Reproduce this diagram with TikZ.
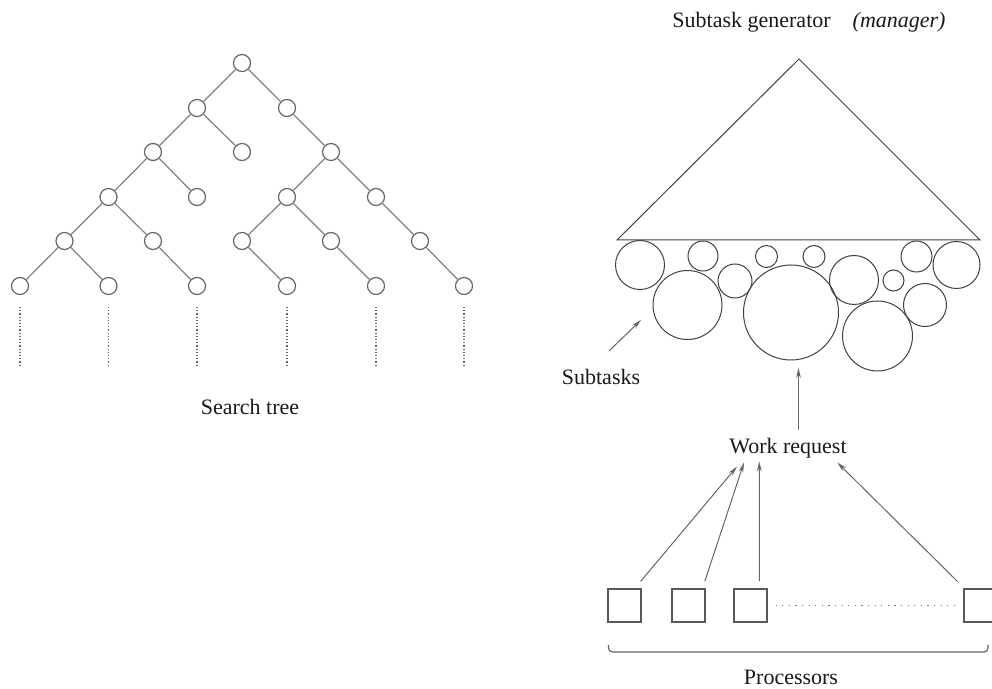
\documentclass[tikz,border=0pt]{standalone}
\usepackage{fontspec}
\setmainfont{Liberation Serif}
\usepackage{tikz}
\usetikzlibrary{arrows.meta}

\begin{document}
\begin{tikzpicture}[
    x=0.5pt, y=-0.5pt,
    font=\fontsize{11}{13}\selectfont,
    tnode/.style = {
        circle, draw=black!60, line width=0.6pt, minimum size=8.5pt, inner sep=0pt
    },
    tedge/.style = {
        draw=black!50, line width=0.6pt
    },
    proc/.style = {
        rectangle, draw=black!65, line width=0.6pt, minimum size=16.5pt, inner sep=0pt
    },
    arrow/.style = {
        -{Stealth[length=5pt, width=2.4pt]}, line width=0.5pt, color=black!60
    },
    label/.style = {
        inner sep=0pt, text=black!90
    }
]
\useasboundingbox (0,0) rectangle (992,689);

% Search tree ── nodes, row by row
\node[tnode] (t0)  at (242,63)   {};
\node[tnode] (t1a) at (197,108)  {};
\node[tnode] (t1b) at (287,108)  {};
\node[tnode] (t2a) at (153,152)  {};
\node[tnode] (t2b) at (242,152)  {};
\node[tnode] (t2c) at (331,152)  {};
\node[tnode] (t3a) at (108.5,197) {};
\node[tnode] (t3b) at (197,197)  {};
\node[tnode] (t3c) at (287,197)  {};
\node[tnode] (t3d) at (376,197)  {};
\node[tnode] (t4a) at (64.5,241) {};
\node[tnode] (t4b) at (153,241)  {};
\node[tnode] (t4c) at (242,241)  {};
\node[tnode] (t4d) at (331,241)  {};
\node[tnode] (t4e) at (420,241)  {};
\node[tnode] (t5a) at (20,286)   {};
\node[tnode] (t5b) at (108.5,286) {};
\node[tnode] (t5c) at (197,286)  {};
\node[tnode] (t5d) at (287,286)  {};
\node[tnode] (t5e) at (376,286)  {};
\node[tnode] (t5f) at (464,286)  {};

% Search tree ── edges
\path[tedge] (t0) -- (t1a)  (t0) -- (t1b)
             (t1a) -- (t2a) (t1a) -- (t2b)  (t1b) -- (t2c)
             (t2a) -- (t3a) (t2a) -- (t3b)  (t2c) -- (t3c)  (t2c) -- (t3d)
             (t3a) -- (t4a) (t3a) -- (t4b)  (t3c) -- (t4c)  (t3c) -- (t4d)  (t3d) -- (t4e)
             (t4a) -- (t5a) (t4a) -- (t5b)  (t4b) -- (t5c)  (t4c) -- (t5d)  (t4d) -- (t5e)  (t4e) -- (t5f);

% Search tree ── continuation below the leaves
\foreach \leaf in {t5a, t5b, t5c, t5d, t5e, t5f}
    \draw[densely dotted, black!60, line width=0.6pt] ([yshift=-6pt]\leaf.south) -- ++(0,58);

\node[label] (stree) at (250,407) {Search tree};

% Manager ── generator triangle and subtasks
\node[label] (gen) at (809,22) {Subtask generator\quad\textit{(manager)}};
\draw[black!75, line width=0.5pt] (617,240) -- (799,59) -- (980,240) -- cycle;

\foreach \cx/\cy/\r in {640/265/24.5, 703/256/15, 766.5/256.5/11, 814/256.5/11,
                        916.5/256.5/15.5, 956.5/265/23.5, 735/281/17, 687.5/305/34.5,
                        791/312.5/47.5, 854/280/24.5, 893.5/280.5/10.5, 925/305/21.5,
                        877.5/336/35}
    \draw[black!75, line width=0.5pt] (\cx,\cy) circle[radius=\r*0.5pt];

\node[label] (subt) at (601,377) {Subtasks};
\coordinate (subtgap) at (641,320);
\draw[arrow] ([shift={(8,-26)}]subt.center) -- (subtgap);

% Work request ── processors to manager
\node[label] (wr) at (788,448) {Work request};
\coordinate (bigtask) at (798.5,368);
\draw[arrow] ([shift={(10.5,-18)}]wr.center) -- (bigtask);

\node[proc] (p1) at (624.5,605.5) {};
\node[proc] (p2) at (688.5,605.5) {};
\node[proc] (p3) at (750.5,605.5) {};
\node[proc] (p4) at (980.5,605.5) {};

\draw[black!55, line width=0.6pt, dash pattern=on 0.6pt off 2.7pt]
    ([xshift=4pt]p3.east) -- ([xshift=-3.5pt]p4.west);

\draw[arrow] ([shift={(-1,-7)}]p1.north east)   -- ([shift={(-51,18.5)}]wr.center);
\draw[arrow] ([shift={(-0.7,-7.3)}]p2.north east) -- ([shift={(-44,14.5)}]wr.center);
\draw[arrow] ([shift={(8.8,-7.3)}]p3.north)     -- ([shift={(-28.7,13.5)}]wr.center);
\draw[arrow] ([shift={(-5.7,-6.7)}]p4.north west) -- ([shift={(49.3,14.5)}]wr.center);

% Processors ── bracket
\draw[black!60, line width=0.6pt, rounded corners=2pt]
    (608.5,645) -- (608.5,652) -- (988,652) -- (988,645);
\node[label] (procs) at (791,677) {Processors};

\end{tikzpicture}
\end{document}
